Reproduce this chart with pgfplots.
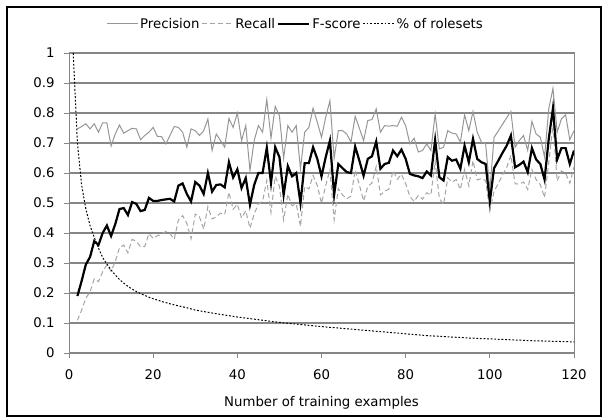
\documentclass[border=0pt]{standalone}
\usepackage{fontspec}
\setmainfont{DejaVu Sans}
\usepackage{pgfplots}
\pgfplotsset{compat=1.18}
\usepackage{pgfplotstable}

\definecolor{gridgray}{RGB}{134,134,134}
\definecolor{precgray}{RGB}{150,150,150}
\definecolor{recgray}{RGB}{165,165,165}
\newcommand\chartfont{\fontsize{13.3bp}{16bp}\selectfont}

% x, precision, recall, f-score
\pgfplotstableread{
x P R F
2 0.747 0.109 0.19
3 0.755 0.143 0.24
4 0.764 0.183 0.295
5 0.747 0.204 0.32
6 0.764 0.247 0.373
7 0.736 0.238 0.36
8 0.767 0.271 0.40
9 0.767 0.294 0.425
10 0.69 0.272 0.39
11 0.73 0.305 0.43
12 0.76 0.351 0.48
13 0.733 0.360 0.483
14 0.741 0.334 0.46
15 0.749 0.379 0.503
16 0.747 0.372 0.497
17 0.711 0.354 0.473
18 0.725 0.355 0.477
19 0.736 0.398 0.517
20 0.752 0.382 0.507
21 0.722 0.391 0.507
22 0.721 0.395 0.51
23 0.697 0.405 0.512
24 0.725 0.398 0.514
25 0.755 0.379 0.505
26 0.752 0.444 0.558
27 0.736 0.458 0.565
28 0.686 0.432 0.53
29 0.747 0.381 0.505
30 0.741 0.463 0.57
31 0.725 0.454 0.558
32 0.741 0.413 0.53
33 0.78 0.488 0.60
34 0.675 0.447 0.538
35 0.73 0.454 0.56
36 0.708 0.466 0.562
37 0.686 0.462 0.552
38 0.782 0.536 0.636
39 0.752 0.479 0.585
40 0.80 0.496 0.612
41 0.708 0.450 0.55
42 0.758 0.474 0.583
43 0.608 0.416 0.494
44 0.708 0.463 0.56
45 0.758 0.497 0.60
46 0.736 0.506 0.60
47 0.845 0.575 0.684
48 0.716 0.469 0.567
49 0.822 0.589 0.686
50 0.791 0.556 0.653
51 0.649 0.444 0.527
52 0.758 0.529 0.623
53 0.736 0.491 0.589
54 0.758 0.497 0.60
55 0.614 0.422 0.50
56 0.736 0.555 0.633
57 0.752 0.547 0.633
58 0.816 0.592 0.686
59 0.769 0.558 0.647
60 0.719 0.499 0.589
61 0.786 0.558 0.653
62 0.841 0.611 0.708
63 0.649 0.444 0.527
64 0.741 0.548 0.63
65 0.741 0.527 0.616
66 0.73 0.514 0.603
67 0.703 0.523 0.60
68 0.789 0.610 0.688
69 0.749 0.560 0.641
70 0.708 0.507 0.591
71 0.775 0.555 0.647
72 0.778 0.567 0.656
73 0.814 0.622 0.705
74 0.736 0.527 0.614
75 0.758 0.539 0.63
76 0.756 0.546 0.634
77 0.758 0.608 0.675
78 0.756 0.579 0.656
79 0.786 0.596 0.678
80 0.758 0.564 0.647
81 0.697 0.522 0.597
82 0.716 0.505 0.592
83 0.67 0.525 0.589
84 0.675 0.513 0.583
85 0.697 0.534 0.605
86 0.675 0.527 0.592
87 0.797 0.640 0.71
88 0.68 0.515 0.586
89 0.686 0.495 0.575
90 0.741 0.584 0.653
91 0.733 0.570 0.641
92 0.73 0.578 0.645
93 0.703 0.545 0.614
94 0.794 0.612 0.691
95 0.741 0.557 0.636
96 0.805 0.641 0.714
97 0.736 0.577 0.647
98 0.703 0.581 0.636
99 0.697 0.575 0.63
100 0.542 0.473 0.505
101 0.719 0.539 0.616
102 0.74 0.565 0.641
103 0.762 0.593 0.667
104 0.784 0.618 0.691
105 0.805 0.659 0.725
106 0.686 0.564 0.619
107 0.708 0.563 0.627
108 0.725 0.570 0.638
109 0.675 0.545 0.603
110 0.772 0.612 0.683
111 0.73 0.578 0.645
112 0.719 0.561 0.63
113 0.653 0.518 0.578
114 0.814 0.636 0.714
115 0.882 0.759 0.816
116 0.736 0.574 0.645
117 0.78 0.607 0.683
118 0.794 0.599 0.683
119 0.711 0.566 0.63
120 0.741 0.620 0.675
}\scores

% share of rolesets
\pgfplotstableread{
x S
1 1.0
2 0.70
3 0.56
4 0.48
5 0.425
6 0.385
7 0.35
8 0.318
9 0.297
10 0.277
11 0.26
12 0.245
13 0.233
14 0.222
15 0.213
16 0.205
17 0.198
18 0.192
19 0.186
20 0.181
22 0.172
24 0.164
26 0.157
28 0.151
30 0.143
35 0.131
40 0.12
45 0.111
50 0.102
55 0.095
60 0.088
65 0.082
70 0.076
75 0.07
80 0.064
85 0.058
90 0.054
95 0.05
100 0.047
105 0.044
110 0.041
115 0.039
120 0.037
}\rolesets

\begin{document}
\begin{tikzpicture}[x=1bp,y=1bp]
\begin{axis}[
  at={(69bp,66bp)}, anchor=south west,
  scale only axis, width=505bp, height=300bp,
  xmin=0, xmax=120, ymin=0, ymax=1,
  xtick={0,20,...,120},
  ytick={0,0.1,0.2,0.3,0.4,0.5,0.6,0.7,0.8,0.9,1},
  yticklabels={0,0.1,0.2,0.3,0.4,0.5,0.6,0.7,0.8,0.9,1},
  xtick pos=bottom, ytick pos=left,
  tick align=outside, major tick length=5bp,
  tick style={gridgray, line width=0.8bp},
  axis line style={gridgray, line width=1bp},
  ymajorgrids, grid style={gridgray, line width=1.3bp},
  tick label style={font=\chartfont, black},
  xticklabel style={yshift=-8bp},
  yticklabel style={xshift=-6bp},
  /pgf/number format/assume math mode=true,
  xlabel={Number of training examples},
  label style={font=\chartfont},
  xlabel style={yshift=-10bp},
  legend style={draw=none, fill=none, at={(0.4485,1.0967)}, anchor=center,
    legend columns=-1, font=\chartfont, inner sep=0pt,
    nodes={inner sep=2bp}},
  legend image code/.code={\draw[#1] (0bp,0bp) -- (31bp,0bp);},
]
\addplot[precgray, line width=1bp] table[x=x, y=P] {\scores};
\addlegendentry{Precision}
\addplot[recgray, line width=1bp, dash pattern=on 5bp off 3bp] table[x=x, y=R] {\scores};
\addlegendentry{Recall}
\addplot[black, line width=2.2bp] table[x=x, y=F] {\scores};
\addlegendentry{F-score}
\addplot[black, line width=1bp, dash pattern=on 1.8bp off 1.8bp] table[x=x, y=S] {\rolesets};
\addlegendentry{\% of rolesets}
\end{axis}
\pgfresetboundingbox
\useasboundingbox (0,0) rectangle (608,419);
\draw[line width=1.5bp] (7,3) rectangle (601,412);
\end{tikzpicture}
\end{document}
